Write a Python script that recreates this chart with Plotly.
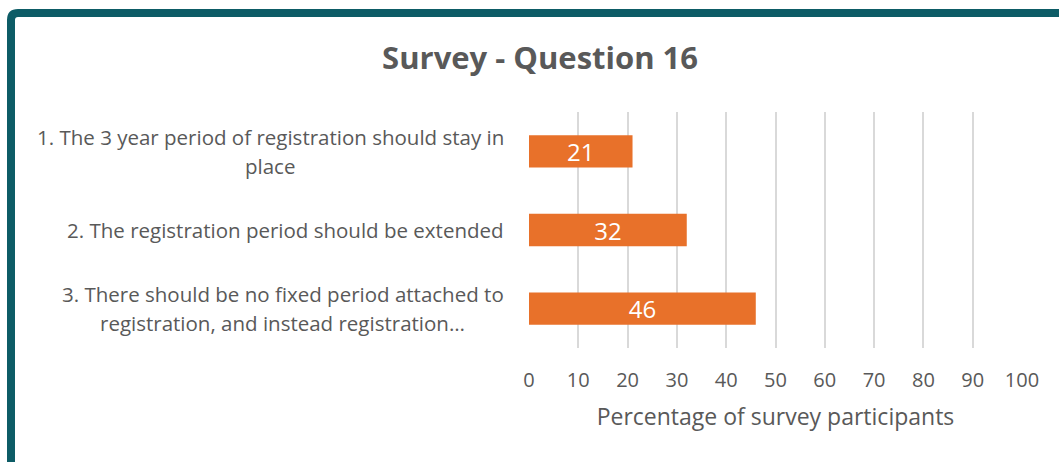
import plotly.graph_objects as go

# Survey responses
categories = ["Option 1", "Option 2", "Option 3"]
label_lines = [
    ["1. The 3 year period of registration should stay in", "place"],
    ["2. The registration period should be extended"],
    ["3. There should be no fixed period attached to", "registration, and instead registration\u2026"],
]
values = [21, 32, 46]
x_ticks = [0, 10, 20, 30, 40, 50, 60, 70, 80, 90, 100]

BAR = "#E8712A"
GREY_TEXT = "#595959"
TEAL = "#0D5C66"
FONT = "Open Sans"

fig = go.Figure(
    go.Bar(
        x=values,
        y=categories,
        orientation="h",
        marker=dict(color=BAR, line=dict(width=0)),
        text=[str(v) for v in values],
        textposition="inside",
        insidetextanchor="middle",
        textangle=0,
        constraintext="none",
        textfont=dict(color="white", size=24, family=FONT),
        width=0.41,
        hoverinfo="skip",
    )
)

# category labels, wrapped; continuation lines centred under the first line
annotations = []
line_gap = 29
wrap_centre_px = [-259, None, -247]  # centre of each wrapped block, px left of the plot
for idx, lines in enumerate(label_lines):
    n = len(lines)
    for i, ln in enumerate(lines):
        offset = (i - (n - 1) / 2) * line_gap
        first = i == 0
        annotations.append(
            dict(
                x=0, xref="paper",
                xanchor="right" if first else "center",
                xshift=-23 if first else wrap_centre_px[idx],
                y=idx, yref="y", yanchor="middle", yshift=-offset,
                text=ln, showarrow=False,
                font=dict(family=FONT, size=20.5, color=GREY_TEXT),
            )
        )

fig.update_layout(
    width=1059,
    height=462,
    margin=dict(l=529, r=37, t=112, b=114),
    paper_bgcolor="white",
    plot_bgcolor="white",
    showlegend=False,
    title=dict(
        text="<b>Survey - Question 16</b>",
        font=dict(family=FONT, size=31, color=GREY_TEXT),
        xref="container", x=0.51, xanchor="center",
        yref="container", y=1 - 58 / 462, yanchor="middle",
    ),
    xaxis=dict(
        range=[0, 100],
        tickvals=x_ticks,
        showgrid=True,
        gridcolor="#D9D9D9",
        gridwidth=2,
        zeroline=False,
        showline=False,
        ticks="",
        ticklabelstandoff=18,
        tickfont=dict(family=FONT, size=20, color=GREY_TEXT),
        title=dict(
            text="Percentage of survey participants",
            font=dict(family=FONT, size=23, color=GREY_TEXT),
            standoff=16,
        ),
    ),
    yaxis=dict(
        type="category",
        categoryorder="array",
        categoryarray=categories,
        range=[2.5, -0.5],
        showticklabels=False,
        showgrid=False,
        zeroline=False,
        showline=False,
        ticks="",
    ),
    annotations=annotations,
    shapes=[
        # teal frame along the top and left edges with a rounded corner
        dict(
            type="path",
            xref="paper", yref="paper",
            xsizemode="pixel", ysizemode="pixel",
            xanchor=0, yanchor=1,
            path="M -518,-400 L -518,92 Q -518,99 -511,99 L 560,99",
            line=dict(color=TEAL, width=8),
            fillcolor="rgba(0,0,0,0)",
            layer="above",
        )
    ],
)

fig.write_html("out.html")
